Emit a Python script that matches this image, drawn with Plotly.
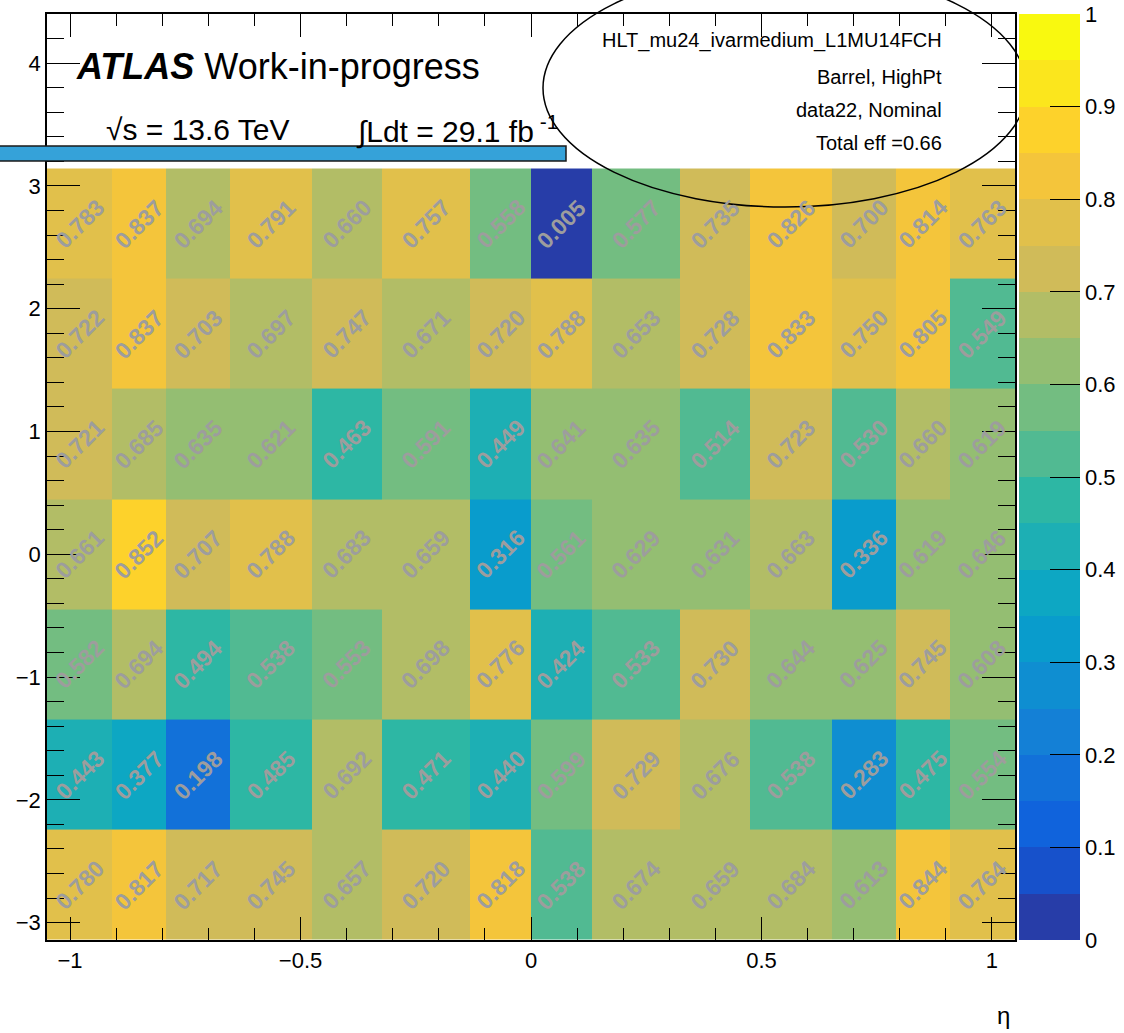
import plotly.graph_objects as go

# ---------------- data ----------------
eta_edges = [-1.05, -0.908, -0.791, -0.652, -0.476, -0.324, -0.132, 0.0,
             0.132, 0.324, 0.476, 0.652, 0.791, 0.908, 1.05]
phi_edges = [-3.1416, -2.2440, -1.3464, -0.4488, 0.4488, 1.3464, 2.2440, 3.1416]

# efficiency rows, from bottom (phi = -pi) to top (phi = +pi)
eff_row1 = [0.780, 0.817, 0.717, 0.745, 0.657, 0.720, 0.818, 0.538, 0.674, 0.659, 0.684, 0.613, 0.844, 0.764]
eff_row2 = [0.443, 0.377, 0.198, 0.485, 0.692, 0.471, 0.440, 0.599, 0.729, 0.676, 0.538, 0.283, 0.475, 0.554]
eff_row3 = [0.582, 0.694, 0.494, 0.538, 0.553, 0.698, 0.776, 0.424, 0.533, 0.730, 0.644, 0.625, 0.745, 0.608]
eff_row4 = [0.661, 0.852, 0.707, 0.788, 0.683, 0.659, 0.316, 0.561, 0.629, 0.631, 0.663, 0.336, 0.619, 0.646]
eff_row5 = [0.721, 0.685, 0.635, 0.621, 0.463, 0.591, 0.449, 0.641, 0.635, 0.514, 0.723, 0.530, 0.660, 0.619]
eff_row6 = [0.722, 0.837, 0.703, 0.697, 0.747, 0.671, 0.720, 0.788, 0.653, 0.728, 0.833, 0.750, 0.805, 0.549]
eff_row7 = [0.783, 0.837, 0.694, 0.791, 0.660, 0.757, 0.558, 0.005, 0.577, 0.735, 0.826, 0.700, 0.814, 0.763]
z = [eff_row1, eff_row2, eff_row3, eff_row4, eff_row5, eff_row6, eff_row7]

cbar_ticks = [0, 0.1, 0.2, 0.3, 0.4, 0.5, 0.6, 0.7, 0.8, 0.9, 1]
cbar_ticklabels = ["0", "0.1", "0.2", "0.3", "0.4", "0.5", "0.6", "0.7", "0.8", "0.9", "1"]

info_lines = ["HLT_mu24_ivarmedium_L1MU14FCH", "Barrel, HighPt", "data22, Nominal", "Total eff =0.66"]

# ---------------- ROOT kBird palette, 20 contours ----------------
st = [0.0, 0.125, 0.25, 0.375, 0.5, 0.625, 0.75, 0.875, 1.0]
rr = [0.2082, 0.0592, 0.0780, 0.0232, 0.1802, 0.5301, 0.8186, 0.9956, 0.9764]
gg = [0.1664, 0.3599, 0.5041, 0.6419, 0.7178, 0.7492, 0.7328, 0.7862, 0.9832]
bb = [0.5293, 0.8684, 0.8385, 0.7914, 0.6425, 0.4662, 0.3499, 0.1968, 0.0539]


def bird(t):
    for k in range(len(st) - 1):
        if st[k] <= t <= st[k + 1]:
            f = (t - st[k]) / (st[k + 1] - st[k])
            r = rr[k] + (rr[k + 1] - rr[k]) * f
            g = gg[k] + (gg[k + 1] - gg[k]) * f
            b = bb[k] + (bb[k + 1] - bb[k]) * f
            return "rgb(%d,%d,%d)" % (round(r * 255), round(g * 255), round(b * 255))
    return "rgb(0,0,0)"


ncont = 20
cscale = []
for i in range(ncont):
    idx = int((i + 0.99) * 255 / ncont)
    col = bird(idx / 255)
    cscale.append([i / ncont, col])
    cscale.append([(i + 1) / ncont, col])

# ---------------- figure ----------------
W, H = 1124, 1033
ML, MR, MT, MB = 47, 109, 14, 93
FONT = "Liberation Sans, Arial, Helvetica, sans-serif"

fig = go.Figure()
fig.add_trace(go.Heatmap(
    x=eta_edges, y=phi_edges, z=z,
    zmin=0, zmax=1, colorscale=cscale, hoverinfo="skip",
    colorbar=dict(
        x=1.004, xanchor="left", xpad=0, y=0.5, yanchor="middle", ypad=0,
        len=1, lenmode="fraction", thickness=61, outlinewidth=0,
        tickmode="array", tickvals=cbar_ticks, ticktext=cbar_ticklabels,
        ticks="inside", ticklen=30, tickwidth=1.3, tickcolor="black",
        tickfont=dict(family=FONT, size=22, color="black"),
    ),
))

# cell value labels
annotations = []
for j in range(len(z)):
    yc = 0.5 * (phi_edges[j] + phi_edges[j + 1])
    for i in range(len(z[j])):
        xc = 0.5 * (eta_edges[i] + eta_edges[i + 1])
        annotations.append(dict(
            x=xc, y=yc, xref="x", yref="y", text="%.3f" % z[j][i],
            showarrow=False, textangle=-45,
            font=dict(family=FONT, size=23, color="#9d9d9d", weight="bold"),
        ))

pw = W - ML - MR
ph = H - MT - MB


def px(xp):
    return (xp - ML) / pw


def py(yp):
    return (H - MB - yp) / ph


annotations.append(dict(
    x=px(74), y=py(67), xref="paper", yref="paper", xanchor="left", yanchor="middle",
    text="<b><i>ATLAS</i></b> Work-in-progress", showarrow=False,
    font=dict(family=FONT, size=36, color="black")))
annotations.append(dict(
    x=px(104), y=py(130), xref="paper", yref="paper", xanchor="left", yanchor="middle",
    text="√s = 13.6 TeV", showarrow=False,
    font=dict(family=FONT, size=30, color="black")))
annotations.append(dict(
    x=px(354), y=py(130), xref="paper", yref="paper", xanchor="left", yanchor="middle",
    text="∫Ldt = 29.1 fb<sup> -1</sup>", showarrow=False,
    font=dict(family=FONT, size=30, color="black")))
for k, (line, ypos) in enumerate(zip(info_lines, [40, 77, 110, 143])):
    annotations.append(dict(
        x=px(944), y=py(ypos), xref="paper", yref="paper", xanchor="right", yanchor="middle",
        text=line, showarrow=False,
        font=dict(family=FONT, size=20, color="black")))
annotations.append(dict(
    x=px(1003), y=py(1015), xref="paper", yref="paper", xanchor="center", yanchor="middle",
    text="η", showarrow=False, font=dict(family=FONT, size=24, color="black")))

shapes = [
    dict(type="rect", xref="paper", yref="paper",
         x0=px(-2), x1=px(566), y0=py(161), y1=py(146),
         fillcolor="#35a2d9", line=dict(color="#1a1a1a", width=1.5), layer="above"),
    dict(type="circle", xref="paper", yref="paper",
         x0=px(543), x1=px(1027), y0=py(207), y1=py(-31),
         fillcolor="rgba(0,0,0,0)", line=dict(color="black", width=1.5), layer="above"),
]

axis_common = dict(
    showgrid=False, zeroline=False, showline=True, linecolor="black", linewidth=1.5,
    mirror="allticks", ticks="inside", tickcolor="black", tickwidth=1.3,
    tickfont=dict(family=FONT, size=22, color="black"),
)

fig.update_layout(
    width=W, height=H, autosize=False,
    margin=dict(l=ML, r=MR, t=MT, b=MB, autoexpand=False),
    paper_bgcolor="white", plot_bgcolor="white",
    xaxis=dict(range=[-1.05, 1.05], tickvals=[-1, -0.5, 0, 0.5, 1],
               ticktext=["−1", "−0.5", "0", "0.5", "1"], ticklen=23,
               minor=dict(dtick=0.1, tick0=0, ticklen=12, ticks="inside", tickcolor="black", tickwidth=1.3),
               **axis_common),
    yaxis=dict(range=[-3.1416, 4.40], tickvals=[-3, -2, -1, 0, 1, 2, 3, 4],
               ticktext=["−3", "−2", "−1", "0", "1", "2", "3", "4"], ticklen=33,
               minor=dict(dtick=0.2, tick0=0, ticklen=17, ticks="inside", tickcolor="black", tickwidth=1.3),
               **axis_common),
    annotations=annotations, shapes=shapes,
)

fig.write_html("out.html", config={"displayModeBar": False},
               post_script="document.body.style.margin='0px';document.body.style.overflow='hidden';")
